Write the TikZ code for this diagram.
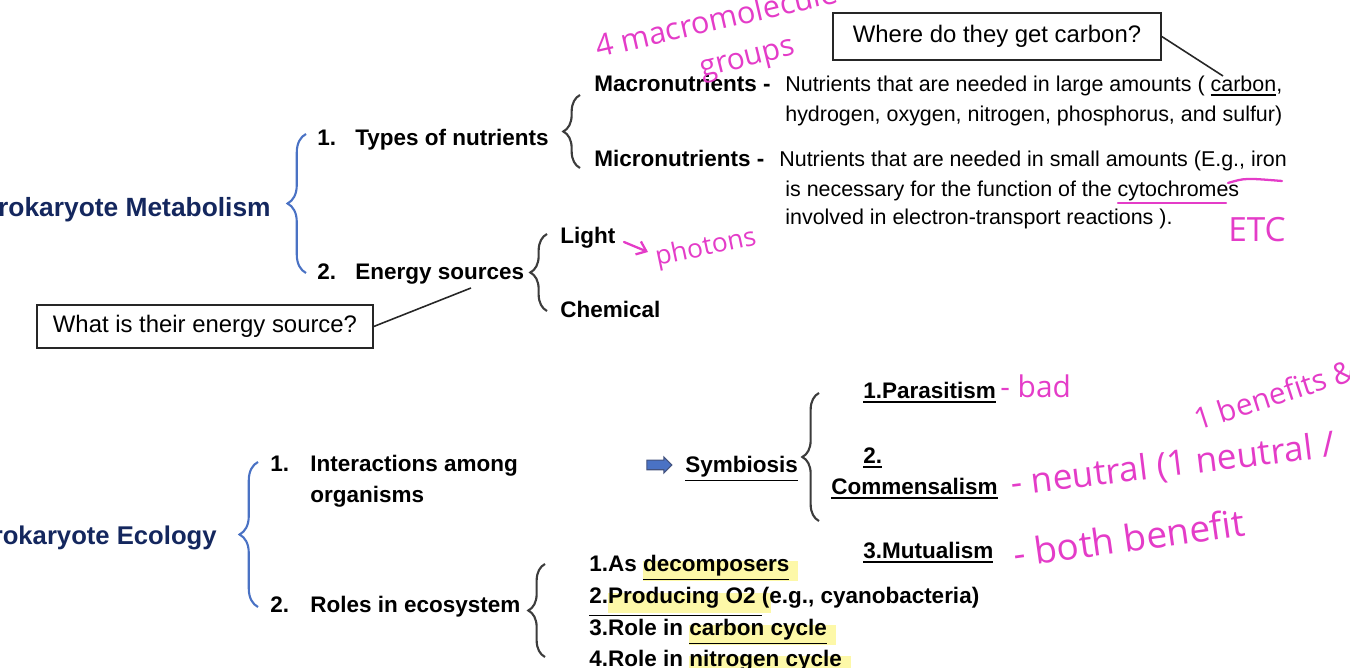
\documentclass[tikz,border=0pt]{standalone}
\usepackage{fontspec}
\setmainfont{Liberation Sans}
\setsansfont{Liberation Sans}
\newfontfamily\handfont{Open Sans}
\usetikzlibrary{decorations.pathreplacing,shapes.arrows,arrows.meta}
\definecolor{navy}{HTML}{14275E}
\definecolor{braceblue}{HTML}{4A72C4}
\definecolor{bracegray}{HTML}{3C3C3C}
\definecolor{pinkink}{HTML}{E43CC8}
\definecolor{hly}{HTML}{FDF8A8}
\newcommand\ulx[1]{\vtop{\hbox{#1}\kern1.2pt\hrule height 0.9pt}}
\newcommand\hlx[1]{\setbox0\hbox{#1}\rlap{\color{hly}\rule[-5pt]{\dimexpr\wd0+5pt\relax}{11pt}}\box0}
\tikzset{
  bold/.style={font=\fontsize{12.8}{15}\selectfont\bfseries, anchor=base west, inner sep=0pt},
  reg/.style={font=\fontsize{12.2}{14}\selectfont, anchor=base west, inner sep=0pt},
  ttl/.style={font=\fontsize{15}{17}\selectfont\bfseries, text=navy, anchor=base east, inner sep=0pt},
  qbox/.style={draw=black!85, line width=0.9pt, font=\fontsize{13.6}{16}\selectfont, inner sep=0pt},
  bbrace/.style={decorate, decoration={brace, amplitude=10.5pt}, draw=braceblue, line width=1.2pt},
  gbrace/.style={decorate, decoration={brace, amplitude=9.5pt}, draw=bracegray, line width=1.2pt},
  hand/.style={font=\handfont\fontsize{17}{19}\selectfont, text=pinkink, inner sep=0pt, anchor=base west},
  conn/.style={draw=black!85, line width=0.9pt},
  pinkline/.style={draw=pinkink, line width=1.3pt, line cap=round}
}
\begin{document}
\begin{tikzpicture}[x=0.02cm, y=-0.02cm]
\useasboundingbox (0,0) rectangle (1350,668);
% ---------- Metabolism ----------
\node[ttl] (met) at (271,217) {Prokaryote Metabolism};
\draw[bbrace] (306,273) -- (306,134);
\node[bold] (n1) at (317,146) {1.};
\node[bold] (types) at (355,146) {Types of nutrients};
\node[bold] (n2) at (317,280) {2.};
\node[bold] (energy) at (355,280) {Energy sources};
\draw[gbrace] (580,168) -- (580,95);
\node[bold] (macro) at (594,92) {Macronutrients -};
\node[reg] (macd1) at (785,92) {Nutrients that are needed in large amounts ( \ulx{carbon},};
\node[reg] (macd2) at (785,122) {hydrogen, oxygen, nitrogen, phosphorus, and sulfur)};
\node[bold] (micro) at (594,167) {Micronutrients -};
\node[reg] (micd1) at (779,167) {Nutrients that are needed in small amounts (E.g., iron};
\node[reg] (micd2) at (785,197) {is necessary for the function of the cytochromes};
\node[reg] (micd3) at (785,225) {involved in electron-transport reactions ).};
\draw[gbrace] (547,311) -- (547,234);
\node[bold] (light) at (560,244) {Light};
\node[bold] (chem) at (560,318) {Chemical};
\node[qbox, minimum width=6.56cm, minimum height=0.94cm] (qcarbon) at (997,36.5) {Where do they get carbon?};
\coordinate (carbonw) at (1223,76);
\draw[conn] (qcarbon.east) -- (carbonw);
\node[qbox, minimum width=6.72cm, minimum height=0.86cm] (qenergy) at (205,326.5) {What is their energy source?};
\coordinate (sourcew) at (471,288);
\draw[conn] (qenergy.east) -- (sourcew);
% ---------- Ecology ----------
\node[ttl, font=\fontsize{14.6}{17}\selectfont\bfseries] (eco) at (217,545) {Prokaryote Ecology};
\draw[bbrace] (258,607) -- (258,462);
\node[bold] (e1) at (270,472) {1.};
\node[bold, align=left, anchor=north west] (inter) at (310,455) {Interactions among\\[2.5pt]organisms};
\node[bold] (e2) at (270,613) {2.};
\node[bold] (roles) at (310,613) {Roles in ecosystem};
\node[single arrow, fill=braceblue, draw=navy!80, line width=0.6pt, minimum height=0.5cm, inner xsep=0pt, inner ysep=0.085cm, single arrow head extend=0.065cm] (sarrow) at (657,465) {};
\node[bold] (sym) at (685,473) {\ulx{Symbiosis}};
\draw[gbrace] (819,521) -- (819,393);
\node[bold] (para) at (863,399) {\ulx{1.Parasitism}};
\node[bold] (com2) at (863,464) {\ulx{2.}};
\node[bold] (com) at (831,495) {\ulx{Commensalism}};
\node[bold] (mutu) at (863,559) {\ulx{3.Mutualism}};
\draw[gbrace] (545,657) -- (545,564);
\node[bold] (r1) at (589,572) {1.As \hlx{\ulx{decomposers}}};
\node[bold] (r2) at (589,604) {\ulx{2.\hlx{Producing O2 }}(e.g., cyanobacteria)};
\node[bold] (r3) at (589,636) {3.Role in \hlx{\ulx{carbon cycle}}};
\node[bold] (r4) at (589,667) {4.Role in \hlx{\ulx{nitrogen cycle}}};
% ---------- handwriting ----------
\node[hand, rotate=13, font=\handfont\fontsize{17.5}{19}\selectfont] (h1) at (598,58) {4 macromolecule};
\node[hand, rotate=14] (h2) at (702,78) {groups};
\node[hand, rotate=12, font=\handfont\fontsize{15}{17}\selectfont] (h3) at (657,266) {photons};
\coordinate (pa1) at (624,242);
\coordinate (pa2) at (648,252);
\draw[pinkline, -{Straight Barb[length=5pt,width=8pt]}] (pa1) -- (pa2);
\coordinate (cy1) at (1118,203);
\coordinate (cy2) at (1226,203);
\draw[pinkline] (cy1) -- (cy2);
\coordinate (dd1) at (1228,183);
\coordinate (dd2) at (1282,181);
\draw[pinkline] (dd1) .. controls (1245,178) .. (dd2);
\node[hand, font=\handfont\fontsize{19}{21}\selectfont] (etc) at (1228,242) {ETC};
\node[hand] (bad) at (1000,398) {- bad};
\node[hand, rotate=18, font=\handfont\fontsize{17}{19}\selectfont] (ben) at (1198,431) {1 benefits \&};
\node[hand, rotate=7, font=\handfont\fontsize{20}{22}\selectfont] (neu) at (1012,496) {- neutral (1 neutral /};
\node[hand, rotate=8, font=\handfont\fontsize{21}{23}\selectfont] (both) at (1015,568) {- both benefit};
\end{tikzpicture}
\end{document}
